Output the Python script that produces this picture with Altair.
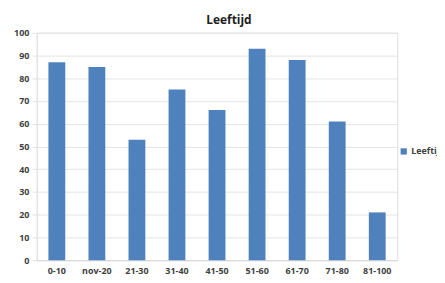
import altair as alt
import pandas as pd

categories = ["0-10", "nov-20", "21-30", "31-40", "41-50", "51-60", "61-70", "71-80", "81-100"]
values = [87, 85, 53, 75, 66, 93, 88, 61, 21]
series = "Leeftijd"

df = pd.DataFrame({"cat": categories, "val": values, "series": [series] * len(values)})

font = "Open Sans"

chart = alt.Chart(df).mark_bar(color="#4F81BD").encode(
    x=alt.X("cat:N", sort=categories, title=None,
            scale=alt.Scale(paddingInner=0.58, paddingOuter=0.29),
            axis=alt.Axis(labelAngle=0, labelFontSize=9, labelFontWeight="bold",
                          labelColor="#404040", labelFont=font, ticks=False,
                          domainColor="#d9d9d9", labelPadding=6)),
    y=alt.Y("val:Q", title=None,
            scale=alt.Scale(domain=[0, 100]),
            axis=alt.Axis(values=list(range(0, 101, 10)), labelFontSize=9,
                          labelFontWeight="bold", labelColor="#404040", labelFont=font,
                          gridColor="#e3e3e3", tickColor="#e3e3e3", tickSize=5,
                          domainColor="#e3e3e3", labelPadding=3)),
    color=alt.Color("series:N", scale=alt.Scale(range=["#4F81BD"]),
                    legend=alt.Legend(title=None, orient="none", legendX=365, legendY=115,
                                      symbolType="square", symbolSize=40, labelOffset=3,
                                      labelFontSize=9, labelFontWeight="bold",
                                      labelColor="#404040", labelFont=font)),
).properties(
    width=363, height=229,
    title=alt.TitleParams("Leeftijd", fontSize=12, fontWeight="bold", font=font,
                          color="#202020", dx=12, offset=2),
    autosize=alt.AutoSizeParams(type="none"),
    padding={"left": 29, "top": 24, "right": 40, "bottom": 15},
).configure_view(stroke=None).configure(background="white")

chart.save("out.html", embed_options={"renderer": "svg", "actions": False})
